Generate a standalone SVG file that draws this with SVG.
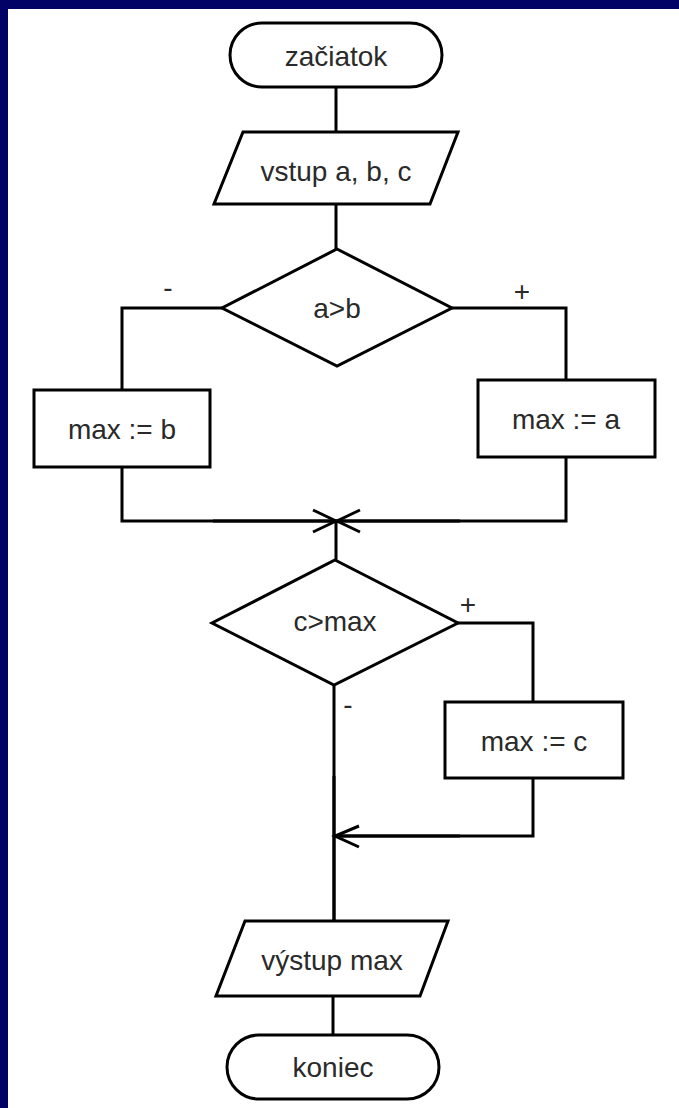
<svg xmlns="http://www.w3.org/2000/svg" width="679" height="1108" viewBox="0 0 679 1108">
<style>
.s{fill:#fff;stroke:#000;stroke-width:3}
.c{fill:none;stroke:#000;stroke-width:3}
.t{font-family:"Liberation Sans",Arial,sans-serif;font-size:28px;fill:#2a2a2a;text-anchor:middle}
.l{font-family:"Liberation Sans",Arial,sans-serif;font-size:28px;fill:#2a2a2a;text-anchor:middle}
</style>
<rect x="0" y="0" width="679" height="1108" fill="#fff"/>
<rect x="0" y="0" width="679" height="9" fill="#020266"/>
<rect x="0" y="0" width="8" height="1108" fill="#020266"/>
<g id="connectors">
<path class="c" d="M336 87V132"/>
<path class="c" d="M336 204V249"/>
<path class="c" d="M222 308H122V390"/>
<path class="c" d="M452 308H566V380"/>
<path class="c" d="M122 467V521H566V457"/>
<path class="c" d="M213 521H460" stroke-width="4"/>
<path class="c" d="M313 510L336 521L313 532M360 510L337 521L360 532"/>
<path class="c" d="M336 521V560"/>
<path class="c" d="M458 623H533V702"/>
<path class="c" d="M533 778V836H334"/>
<path class="c" d="M334 836H460" stroke-width="4"/>
<path class="c" d="M359 826L335 836L359 847"/>
<path class="c" d="M334 685V921"/>
<path class="c" d="M334 776V921" stroke-width="4"/>
<path class="c" d="M333 996V1035"/>
<text class="l" x="168" y="297">-</text>
<text class="l" x="522" y="301">+</text>
<text class="l" x="468" y="614">+</text>
<text class="l" x="348" y="714">-</text>
</g>
<g id="start">
<rect class="s" x="230" y="23" width="212" height="64" rx="32"/>
<text class="t" x="336" y="66">začiatok</text>
</g>
<g id="input">
<polygon class="s" points="243,132 458,132 430,204 214,204"/>
<text class="t" x="336" y="181">vstup a, b, c</text>
</g>
<g id="dec1">
<polygon class="s" points="337,249 452,308 337,366 222,308"/>
<text class="t" x="337" y="318">a&gt;b</text>
</g>
<g id="maxb">
<rect class="s" x="34" y="390" width="176" height="77"/>
<text class="t" x="122" y="439">max := b</text>
</g>
<g id="maxa">
<rect class="s" x="478" y="380" width="177" height="77"/>
<text class="t" x="566" y="429">max := a</text>
</g>
<g id="dec2">
<polygon class="s" points="335,560 458,623 334,685 212,623"/>
<text class="t" x="335" y="631">c&gt;max</text>
</g>
<g id="maxc">
<rect class="s" x="445" y="702" width="178" height="76"/>
<text class="t" x="534" y="751">max := c</text>
</g>
<g id="output">
<polygon class="s" points="245,921 448,921 420,996 216,996"/>
<text class="t" x="332" y="970">výstup max</text>
</g>
<g id="end">
<rect class="s" x="227" y="1035" width="212" height="64" rx="32"/>
<text class="t" x="333" y="1077">koniec</text>
</g>
</svg>
